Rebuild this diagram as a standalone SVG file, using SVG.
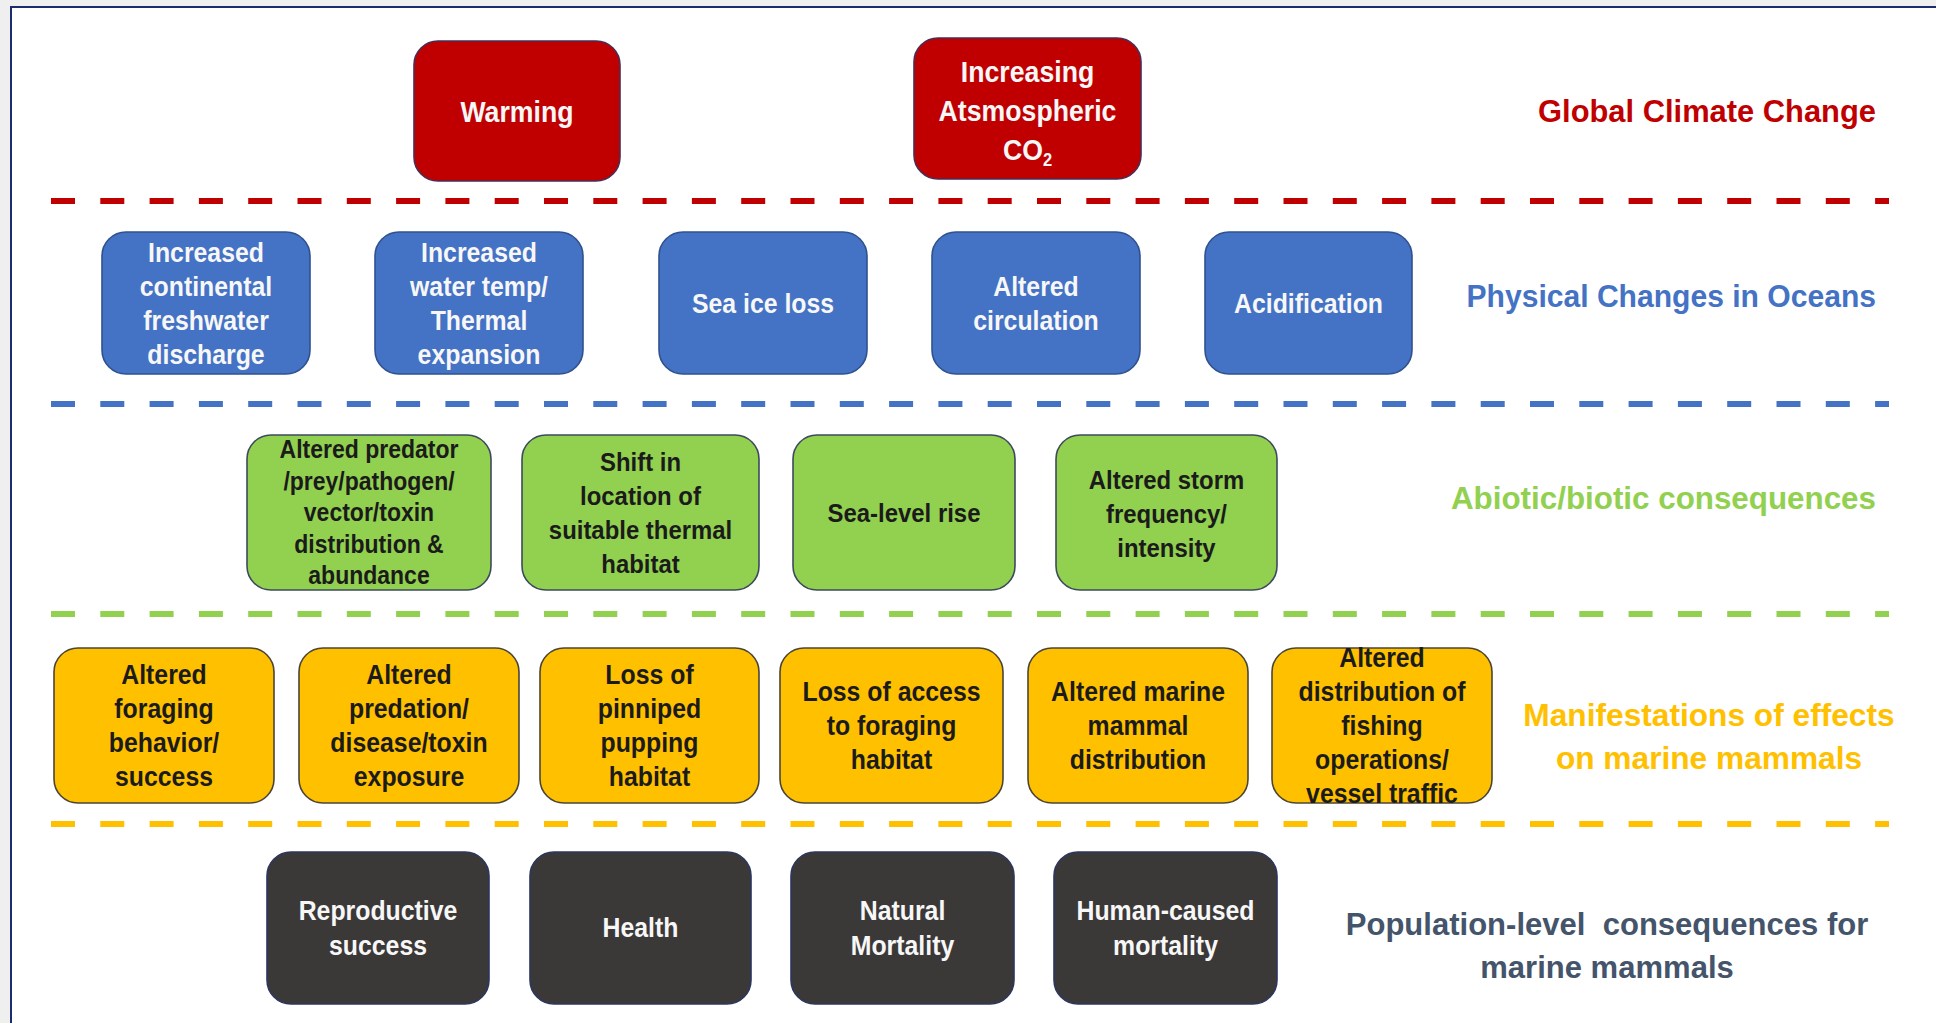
<svg xmlns="http://www.w3.org/2000/svg" width="1936" height="1023" viewBox="0 0 1936 1023">
  <style>
    .box rect { stroke-width: 1.6; }
    .red rect { fill: #c00000; stroke: #4a2c55; }
    .blue rect { fill: #4472c4; stroke: #2f528f; }
    .green rect { fill: #92d050; stroke: #3d4a5c; }
    .orange rect { fill: #ffc000; stroke: #4b4536; }
    .dark rect { fill: #3b3838; stroke: #2c3660; }
    text { font-family: "Liberation Sans", Arial, sans-serif; font-weight: bold; text-anchor: middle; }
    .light text { fill: #f7f7f7; }
    .ink text { fill: #1b1b1b; }
    .red text { font-size: 29px; }
    .blue text, .orange text, .dark text { font-size: 27px; }
    .green text { font-size: 26px; }
    .green text.small { font-size: 25px; }
    .title text { font-size: 32px; }
    .title.end text { text-anchor: end; }
    .sep { stroke-width: 6; stroke-dasharray: 24 25.3; fill: none; }
  </style>

  <!-- page background and frame -->
  <rect x="0" y="0" width="1936" height="1023" fill="#efefef"/>
  <rect x="11" y="7" width="1940" height="1030" fill="#ffffff" stroke="#1c2b6e" stroke-width="2"/>

  <!-- tier separators -->
  <g id="separators">
    <line class="sep" x1="51" y1="201" x2="1889" y2="201" stroke="#c00000"/>
    <line class="sep" x1="51" y1="404" x2="1889" y2="404" stroke="#4472c4"/>
    <line class="sep" x1="51" y1="614" x2="1889" y2="614" stroke="#92d050"/>
    <line class="sep" x1="51" y1="824" x2="1889" y2="824" stroke="#ffc000"/>
  </g>

  <!-- tier titles (labels are narrowed horizontally) -->
  <g id="titles">
    <g class="title end" transform="matrix(0.965 0 0 1 1876 0)"><text y="122" fill="#c00000">Global Climate Change</text></g>
    <g class="title end" transform="matrix(0.94 0 0 1 1876 0)"><text y="307" fill="#4472c4">Physical Changes in Oceans</text></g>
    <g class="title end" transform="matrix(0.98 0 0 1 1876 0)"><text y="509" fill="#92d050">Abiotic/biotic consequences</text></g>
    <g class="title" transform="matrix(0.99 0 0 1 1709 0)">
      <text y="726" fill="#ffc000">Manifestations of effects</text>
      <text y="769" fill="#ffc000">on marine mammals</text>
    </g>
    <g class="title" transform="matrix(0.97 0 0 1 1607 0)">
      <text y="935" fill="#44546a" xml:space="preserve">Population-level  consequences for</text>
      <text y="978" fill="#44546a">marine mammals</text>
    </g>
  </g>

  <!-- Global climate change -->
  <g id="warming" class="box red light">
    <rect x="414" y="41" width="206" height="140" rx="24"/>
    <g transform="matrix(0.92 0 0 1 517 0)"><text y="122">Warming</text></g>
  </g>
  <g id="co2" class="box red light">
    <rect x="914" y="38" width="227" height="141" rx="24"/>
    <g transform="matrix(0.92 0 0 1 1027.5 0)">
      <text y="82">Increasing</text>
      <text y="121">Atsmospheric</text>
      <text y="160">CO<tspan font-size="18" dy="6">2</tspan></text>
    </g>
  </g>

  <!-- Physical changes in oceans -->
  <g id="freshwater" class="box blue light">
    <rect x="102" y="232" width="208" height="142" rx="24"/>
    <g transform="matrix(0.92 0 0 1 206 0)">
      <text y="262">Increased</text>
      <text y="296">continental</text>
      <text y="330">freshwater</text>
      <text y="364">discharge</text>
    </g>
  </g>
  <g id="water-temp" class="box blue light">
    <rect x="375" y="232" width="208" height="142" rx="24"/>
    <g transform="matrix(0.92 0 0 1 479 0)">
      <text y="262">Increased</text>
      <text y="296">water temp/</text>
      <text y="330">Thermal</text>
      <text y="364">expansion</text>
    </g>
  </g>
  <g id="sea-ice" class="box blue light">
    <rect x="659" y="232" width="208" height="142" rx="24"/>
    <g transform="matrix(0.92 0 0 1 763 0)"><text y="313">Sea ice loss</text></g>
  </g>
  <g id="circulation" class="box blue light">
    <rect x="932" y="232" width="208" height="142" rx="24"/>
    <g transform="matrix(0.92 0 0 1 1036 0)">
      <text y="296">Altered</text>
      <text y="330">circulation</text>
    </g>
  </g>
  <g id="acidification" class="box blue light">
    <rect x="1205" y="232" width="207" height="142" rx="24"/>
    <g transform="matrix(0.92 0 0 1 1308.5 0)"><text y="313">Acidification</text></g>
  </g>

  <!-- Abiotic / biotic consequences -->
  <g id="predator-prey" class="box green ink">
    <rect x="247" y="435" width="244" height="155" rx="24"/>
    <g transform="matrix(0.92 0 0 1 369 0)">
      <text class="small" y="458.5">Altered predator</text>
      <text class="small" y="490">/prey/pathogen/</text>
      <text class="small" y="521.5">vector/toxin</text>
      <text class="small" y="553">distribution &amp;</text>
      <text class="small" y="584.5">abundance</text>
    </g>
  </g>
  <g id="thermal-habitat" class="box green ink">
    <rect x="522" y="435" width="237" height="155" rx="24"/>
    <g transform="matrix(0.92 0 0 1 640.5 0)">
      <text y="471">Shift in</text>
      <text y="505">location of</text>
      <text y="539">suitable thermal</text>
      <text y="573">habitat</text>
    </g>
  </g>
  <g id="sea-level" class="box green ink">
    <rect x="793" y="435" width="222" height="155" rx="24"/>
    <g transform="matrix(0.92 0 0 1 904 0)"><text y="522">Sea-level rise</text></g>
  </g>
  <g id="storms" class="box green ink">
    <rect x="1056" y="435" width="221" height="155" rx="24"/>
    <g transform="matrix(0.92 0 0 1 1166.5 0)">
      <text y="489">Altered storm</text>
      <text y="523">frequency/</text>
      <text y="557">intensity</text>
    </g>
  </g>

  <!-- Manifestations of effects on marine mammals -->
  <g id="foraging" class="box orange ink">
    <rect x="54" y="648" width="220" height="155" rx="24"/>
    <g transform="matrix(0.92 0 0 1 164 0)">
      <text y="684.5">Altered</text>
      <text y="718.5">foraging</text>
      <text y="752.5">behavior/</text>
      <text y="786.5">success</text>
    </g>
  </g>
  <g id="predation" class="box orange ink">
    <rect x="299" y="648" width="220" height="155" rx="24"/>
    <g transform="matrix(0.92 0 0 1 409 0)">
      <text y="684.5">Altered</text>
      <text y="718.5">predation/</text>
      <text y="752.5">disease/toxin</text>
      <text y="786.5">exposure</text>
    </g>
  </g>
  <g id="pupping" class="box orange ink">
    <rect x="540" y="648" width="219" height="155" rx="24"/>
    <g transform="matrix(0.92 0 0 1 649.5 0)">
      <text y="684.5">Loss of</text>
      <text y="718.5">pinniped</text>
      <text y="752.5">pupping</text>
      <text y="786.5">habitat</text>
    </g>
  </g>
  <g id="foraging-access" class="box orange ink">
    <rect x="780" y="648" width="223" height="155" rx="24"/>
    <g transform="matrix(0.92 0 0 1 891.5 0)">
      <text y="701.5">Loss of access</text>
      <text y="735.5">to foraging</text>
      <text y="769.5">habitat</text>
    </g>
  </g>
  <g id="mammal-distribution" class="box orange ink">
    <rect x="1028" y="648" width="220" height="155" rx="24"/>
    <g transform="matrix(0.92 0 0 1 1138 0)">
      <text y="701.5">Altered marine</text>
      <text y="735.5">mammal</text>
      <text y="769.5">distribution</text>
    </g>
  </g>
  <g id="fishing" class="box orange ink">
    <rect x="1272" y="648" width="220" height="155" rx="24"/>
    <g transform="matrix(0.92 0 0 1 1382 0)">
      <text y="667.5">Altered</text>
      <text y="701.5">distribution of</text>
      <text y="735.5">fishing</text>
      <text y="769.5">operations/</text>
      <text y="803.5">vessel traffic</text>
    </g>
  </g>

  <!-- Population-level consequences -->
  <g id="reproductive" class="box dark light">
    <rect x="267" y="852" width="222" height="152" rx="24"/>
    <g transform="matrix(0.92 0 0 1 378 0)">
      <text y="920.5">Reproductive</text>
      <text y="955.5">success</text>
    </g>
  </g>
  <g id="health" class="box dark light">
    <rect x="530" y="852" width="221" height="152" rx="24"/>
    <g transform="matrix(0.92 0 0 1 640.5 0)"><text y="937.5">Health</text></g>
  </g>
  <g id="natural-mortality" class="box dark light">
    <rect x="791" y="852" width="223" height="152" rx="24"/>
    <g transform="matrix(0.92 0 0 1 902.5 0)">
      <text y="920.5">Natural</text>
      <text y="955.5">Mortality</text>
    </g>
  </g>
  <g id="human-mortality" class="box dark light">
    <rect x="1054" y="852" width="223" height="152" rx="24"/>
    <g transform="matrix(0.92 0 0 1 1165.5 0)">
      <text y="920.5">Human-caused</text>
      <text y="955.5">mortality</text>
    </g>
  </g>
</svg>
